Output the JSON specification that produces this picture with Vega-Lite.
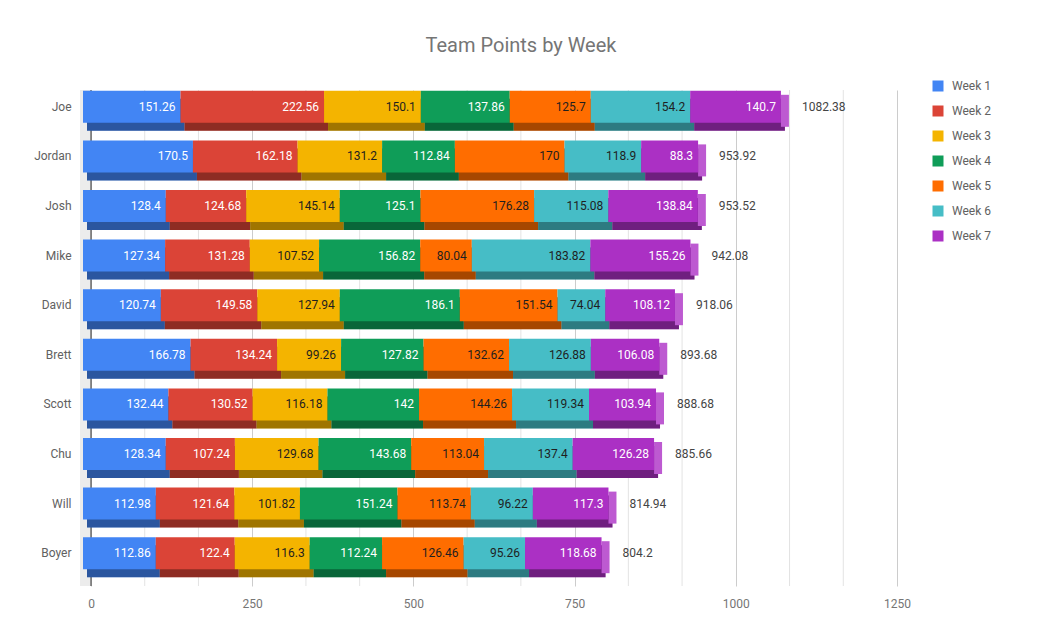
{
  "$schema": "https://vega.github.io/schema/vega-lite/v6.json",
  "autosize": {"type": "none"},
  "width": 806,
  "height": 496,
  "padding": {"left": 91, "top": 90, "right": 144, "bottom": 58},
  "background": "white",
  "title": {
    "text": "Team Points by Week",
    "fontSize": 20,
    "font": "Roboto",
    "fontWeight": "normal",
    "color": "#757575",
    "anchor": "middle",
    "dx": 27,
    "offset": 24
  },
  "datasets": {
    "points": [
      {"player": "Joe", "week": "Week 1", "points": 151.26},
      {"player": "Joe", "week": "Week 2", "points": 222.56},
      {"player": "Joe", "week": "Week 3", "points": 150.1},
      {"player": "Joe", "week": "Week 4", "points": 137.86},
      {"player": "Joe", "week": "Week 5", "points": 125.7},
      {"player": "Joe", "week": "Week 6", "points": 154.2},
      {"player": "Joe", "week": "Week 7", "points": 140.7},
      {"player": "Jordan", "week": "Week 1", "points": 170.5},
      {"player": "Jordan", "week": "Week 2", "points": 162.18},
      {"player": "Jordan", "week": "Week 3", "points": 131.2},
      {"player": "Jordan", "week": "Week 4", "points": 112.84},
      {"player": "Jordan", "week": "Week 5", "points": 170},
      {"player": "Jordan", "week": "Week 6", "points": 118.9},
      {"player": "Jordan", "week": "Week 7", "points": 88.3},
      {"player": "Josh", "week": "Week 1", "points": 128.4},
      {"player": "Josh", "week": "Week 2", "points": 124.68},
      {"player": "Josh", "week": "Week 3", "points": 145.14},
      {"player": "Josh", "week": "Week 4", "points": 125.1},
      {"player": "Josh", "week": "Week 5", "points": 176.28},
      {"player": "Josh", "week": "Week 6", "points": 115.08},
      {"player": "Josh", "week": "Week 7", "points": 138.84},
      {"player": "Mike", "week": "Week 1", "points": 127.34},
      {"player": "Mike", "week": "Week 2", "points": 131.28},
      {"player": "Mike", "week": "Week 3", "points": 107.52},
      {"player": "Mike", "week": "Week 4", "points": 156.82},
      {"player": "Mike", "week": "Week 5", "points": 80.04},
      {"player": "Mike", "week": "Week 6", "points": 183.82},
      {"player": "Mike", "week": "Week 7", "points": 155.26},
      {"player": "David", "week": "Week 1", "points": 120.74},
      {"player": "David", "week": "Week 2", "points": 149.58},
      {"player": "David", "week": "Week 3", "points": 127.94},
      {"player": "David", "week": "Week 4", "points": 186.1},
      {"player": "David", "week": "Week 5", "points": 151.54},
      {"player": "David", "week": "Week 6", "points": 74.04},
      {"player": "David", "week": "Week 7", "points": 108.12},
      {"player": "Brett", "week": "Week 1", "points": 166.78},
      {"player": "Brett", "week": "Week 2", "points": 134.24},
      {"player": "Brett", "week": "Week 3", "points": 99.26},
      {"player": "Brett", "week": "Week 4", "points": 127.82},
      {"player": "Brett", "week": "Week 5", "points": 132.62},
      {"player": "Brett", "week": "Week 6", "points": 126.88},
      {"player": "Brett", "week": "Week 7", "points": 106.08},
      {"player": "Scott", "week": "Week 1", "points": 132.44},
      {"player": "Scott", "week": "Week 2", "points": 130.52},
      {"player": "Scott", "week": "Week 3", "points": 116.18},
      {"player": "Scott", "week": "Week 4", "points": 142},
      {"player": "Scott", "week": "Week 5", "points": 144.26},
      {"player": "Scott", "week": "Week 6", "points": 119.34},
      {"player": "Scott", "week": "Week 7", "points": 103.94},
      {"player": "Chu", "week": "Week 1", "points": 128.34},
      {"player": "Chu", "week": "Week 2", "points": 107.24},
      {"player": "Chu", "week": "Week 3", "points": 129.68},
      {"player": "Chu", "week": "Week 4", "points": 143.68},
      {"player": "Chu", "week": "Week 5", "points": 113.04},
      {"player": "Chu", "week": "Week 6", "points": 137.4},
      {"player": "Chu", "week": "Week 7", "points": 126.28},
      {"player": "Will", "week": "Week 1", "points": 112.98},
      {"player": "Will", "week": "Week 2", "points": 121.64},
      {"player": "Will", "week": "Week 3", "points": 101.82},
      {"player": "Will", "week": "Week 4", "points": 151.24},
      {"player": "Will", "week": "Week 5", "points": 113.74},
      {"player": "Will", "week": "Week 6", "points": 96.22},
      {"player": "Will", "week": "Week 7", "points": 117.3},
      {"player": "Boyer", "week": "Week 1", "points": 112.86},
      {"player": "Boyer", "week": "Week 2", "points": 122.4},
      {"player": "Boyer", "week": "Week 3", "points": 116.3},
      {"player": "Boyer", "week": "Week 4", "points": 112.24},
      {"player": "Boyer", "week": "Week 5", "points": 126.46},
      {"player": "Boyer", "week": "Week 6", "points": 95.26},
      {"player": "Boyer", "week": "Week 7", "points": 118.68}
    ],
    "minorGrid": [
      {"v": 83.333}, {"v": 166.667}, {"v": 333.333}, {"v": 416.667},
      {"v": 583.333}, {"v": 666.667}, {"v": 833.333}, {"v": 916.667},
      {"v": 1083.333}, {"v": 1166.667}
    ]
  },
  "data": {"name": "points"},
  "layer": [
    {
      "data": {"name": "minorGrid"},
      "mark": {"type": "rule", "color": "#e3e3e3", "strokeWidth": 1},
      "encoding": {
        "x": {
          "field": "v",
          "type": "quantitative",
          "scale": {"domain": [0, 1250], "nice": false},
          "axis": {
            "values": [0, 250, 500, 750, 1000, 1250],
            "format": "d",
            "grid": true,
            "gridColor": "#cccccc",
            "domain": false,
            "ticks": false,
            "labelFlush": false,
            "labelOverlap": false,
            "labelPadding": 12,
            "labelColor": "#757575",
            "labelFontSize": 12,
            "title": null
          }
        }
      }
    },
    {
      "data": {"values": [{}]},
      "mark": {"type": "rule", "color": "#ececec", "strokeWidth": 11, "xOffset": -5.5},
      "encoding": {"x": {"datum": 0, "type": "quantitative"}}
    },
    {
      "data": {"values": [{}]},
      "mark": {"type": "rule", "color": "#333333", "strokeWidth": 1},
      "encoding": {"x": {"datum": 0, "type": "quantitative"}}
    },
    {
      "mark": {"type": "bar", "height": 32, "xOffset": -4, "x2Offset": -4},
      "encoding": {
        "y": {
          "field": "player",
          "type": "nominal",
          "sort": ["Joe", "Jordan", "Josh", "Mike", "David", "Brett", "Scott", "Chu", "Will", "Boyer"],
          "scale": {"paddingInner": 0, "paddingOuter": 0},
          "axis": {
            "domain": false,
            "ticks": false,
            "labelPadding": 20,
            "labelOffset": -8,
            "labelColor": "#616161",
            "labelFontSize": 12,
            "title": null
          }
        },
        "x": {"field": "points", "type": "quantitative"},
        "color": {"field": "week", "type": "nominal"},
        "order": {"field": "week"}
      }
    },
    {
      "mark": {"type": "bar", "height": 32, "xOffset": -4, "x2Offset": -4, "color": "#000000", "opacity": 0.35},
      "encoding": {
        "y": {"field": "player", "type": "nominal", "sort": ["Joe", "Jordan", "Josh", "Mike", "David", "Brett", "Scott", "Chu", "Will", "Boyer"]},
        "x": {"field": "points", "type": "quantitative"},
        "detail": {"field": "week"},
        "order": {"field": "week"}
      }
    },
    {
      "mark": {"type": "tick", "color": "#bd5ad1", "opacity": 1, "thickness": 8, "size": 32, "xOffset": -4, "yOffset": -4},
      "encoding": {
        "y": {"field": "player", "type": "nominal", "sort": ["Joe", "Jordan", "Josh", "Mike", "David", "Brett", "Scott", "Chu", "Will", "Boyer"]},
        "x": {"aggregate": "sum", "field": "points", "type": "quantitative"}
      }
    },
    {
      "mark": {"type": "bar", "height": 32, "yOffset": -8, "xOffset": -8, "x2Offset": -8},
      "encoding": {
        "y": {"field": "player", "type": "nominal", "sort": ["Joe", "Jordan", "Josh", "Mike", "David", "Brett", "Scott", "Chu", "Will", "Boyer"]},
        "x": {"field": "points", "type": "quantitative"},
        "color": {
          "field": "week",
          "type": "nominal",
          "scale": {
            "domain": ["Week 1", "Week 2", "Week 3", "Week 4", "Week 5", "Week 6", "Week 7"],
            "range": ["#4285f4", "#db4437", "#f4b400", "#0f9d58", "#ff6d00", "#46bdc6", "#ab30c4"]
          },
          "legend": {
            "orient": "none",
            "legendX": 841,
            "legendY": -10,
            "title": null,
            "padding": 0,
            "symbolType": "square",
            "symbolSize": 121,
            "symbolStrokeWidth": 0,
            "symbolOpacity": 1,
            "labelOffset": 8,
            "labelFontSize": 12,
            "labelColor": "#616161",
            "rowPadding": 13
          }
        },
        "order": {"field": "week"}
      }
    },
    {
      "mark": {"type": "text", "align": "right", "baseline": "middle", "dx": -13, "dy": -8, "fontSize": 12},
      "encoding": {
        "y": {"field": "player", "type": "nominal", "sort": ["Joe", "Jordan", "Josh", "Mike", "David", "Brett", "Scott", "Chu", "Will", "Boyer"]},
        "x": {"field": "points", "type": "quantitative", "stack": "zero"},
        "detail": {"field": "week"},
        "order": {"field": "week"},
        "text": {"field": "points", "type": "quantitative", "format": ".2~f"},
        "color": {
          "condition": {"test": "indexof(['Week 3', 'Week 5', 'Week 6'], datum.week) >= 0", "value": "#1f1f1f"},
          "value": "#ffffff"
        }
      }
    },
    {
      "mark": {"type": "text", "align": "left", "baseline": "middle", "dx": 13, "dy": -8, "fontSize": 12, "color": "#444444"},
      "encoding": {
        "y": {"field": "player", "type": "nominal", "sort": ["Joe", "Jordan", "Josh", "Mike", "David", "Brett", "Scott", "Chu", "Will", "Boyer"]},
        "x": {"aggregate": "sum", "field": "points", "type": "quantitative"},
        "text": {"aggregate": "sum", "field": "points", "type": "quantitative", "format": ".2~f"}
      }
    }
  ],
  "config": {
    "font": "Roboto",
    "view": {"stroke": null},
    "axis": {"labelFont": "Roboto"},
    "legend": {"labelFont": "Roboto"}
  }
}
